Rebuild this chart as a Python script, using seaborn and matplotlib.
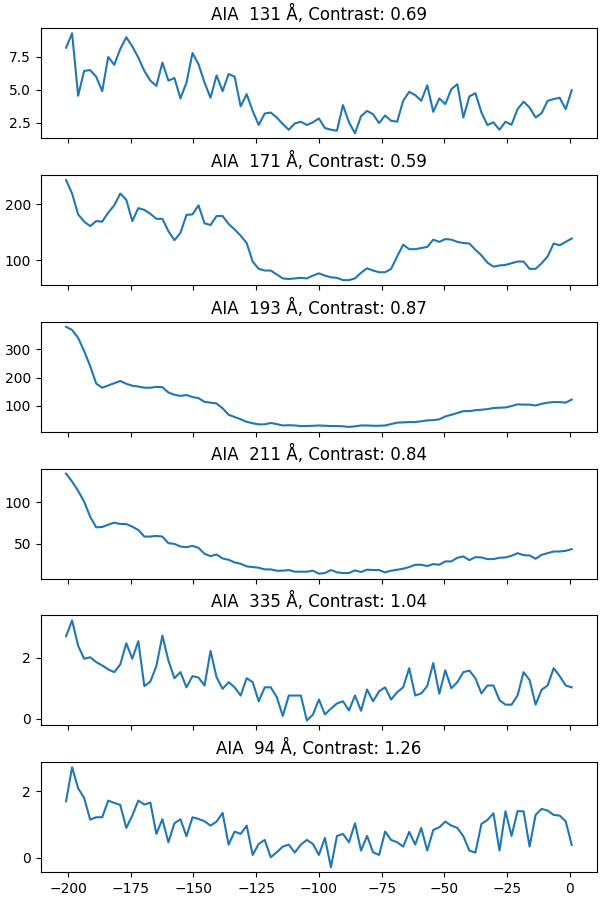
import numpy as np
import pandas as pd
import matplotlib
matplotlib.use("Agg")
import matplotlib.pyplot as plt
import seaborn as sns

# time axis (85 samples, ~2.4 spacing)
t = np.round(-200.8 + 2.4 * np.arange(85), 1)

wavelengths = [131, 171, 193, 211, 335, 94]
contrasts = [0.69, 0.59, 0.87, 0.84, 1.04, 1.26]

aia_131 = [8.2, 9.3, 4.55, 6.44, 6.5, 6.0, 4.9, 7.5, 6.9, 8.1,
           9.0, 8.3, 7.45, 6.44, 5.7, 5.3, 7.07, 5.7, 5.9, 4.35,
           5.55, 7.8, 6.95, 5.55, 4.4, 6.1, 4.9, 6.2, 6.0, 3.75,
           4.67, 3.4, 2.33, 3.2, 3.28, 2.9, 2.4, 1.97, 2.45, 2.58,
           2.33, 2.53, 2.83, 2.1, 1.97, 1.9, 3.84, 2.53, 1.7, 3.0,
           3.4, 3.15, 2.48, 3.05, 2.65, 2.58, 4.17, 4.85, 4.6, 4.17,
           5.35, 3.33, 4.35, 3.92, 5.05, 5.43, 2.9, 4.5, 4.75, 3.28,
           2.33, 2.53, 1.97, 2.58, 2.35, 3.53, 4.1, 3.66, 2.9, 3.23,
           4.17, 4.3, 4.4, 3.53, 4.97]

aia_171 = [243, 219, 182, 169, 161, 170, 169, 185, 198, 219,
           208, 170, 193, 190, 183, 174, 174, 152, 136, 149,
           181, 182, 198, 166, 163, 179, 179, 165, 155, 144,
           131, 98, 85, 82, 82, 75, 68, 67, 68, 69,
           68, 73, 77, 73, 70, 69, 65, 65, 68, 78,
           86, 82, 79, 79, 85, 107, 128, 120, 120, 122,
           124, 137, 133, 138, 137, 133, 131, 130, 119, 109,
           96, 89, 91, 92, 95, 98, 98, 85, 85, 95,
           107, 130, 127, 133, 139]

aia_193 = [380, 369, 341, 294, 241, 179, 164, 172, 180, 188,
           178, 171, 168, 164, 164, 167, 166, 147, 139, 135,
           138, 131, 127, 114, 111, 108, 91, 68, 60, 52,
           43, 38, 34, 34, 39, 35, 30, 31, 30, 28,
           28, 29, 30, 29, 28, 28, 27, 25, 27, 30,
           30, 29, 29, 30, 35, 40, 41, 42, 42, 45,
           48, 49, 52, 62, 68, 74, 81, 81, 84, 86,
           88, 92, 93, 94, 99, 105, 104, 104, 101, 107,
           111, 113, 113, 111, 122]

aia_211 = [134.8, 125.2, 114, 101, 82.8, 70, 70.4, 73.2, 75.6, 74,
           74, 70.8, 66.8, 58.8, 58.8, 59.6, 58.8, 50.8, 50, 46.8,
           46, 47.6, 45.2, 38, 35.2, 37.2, 32.4, 30.8, 27.6, 26,
           22.8, 22, 21.2, 19.2, 19.2, 17.6, 17.6, 18.4, 16.4, 16.4,
           16.4, 17.6, 14, 14.8, 18.4, 15.6, 14.8, 14.8, 18, 16,
           18.8, 18.4, 18.4, 15.6, 17.6, 18.8, 20, 22, 24.8, 24.8,
           23.2, 25.6, 24.8, 28.8, 28.8, 33.2, 34.8, 30.4, 34, 33.6,
           31.6, 31.6, 33.2, 33.6, 35.6, 38.8, 36.4, 36, 32, 36.8,
           38.8, 40.8, 40.8, 41.6, 43.6]

aia_335 = [2.71, 3.23, 2.40, 1.97, 2.02, 1.86, 1.75, 1.62, 1.53, 1.78,
           2.48, 1.97, 2.55, 1.07, 1.22, 1.73, 2.73, 1.91, 1.33, 1.53,
           1.03, 1.40, 1.35, 1.09, 2.23, 1.36, 0.98, 1.20, 1.03, 0.76,
           1.33, 1.20, 0.57, 1.03, 1.03, 0.71, 0.09, 0.76, 0.76, 0.76,
           -0.06, 0.13, 0.63, 0.14, 0.33, 0.50, 0.57, 0.27, 0.76, 0.26,
           0.96, 0.57, 0.90, 1.03, 0.63, 0.87, 1.03, 1.66, 0.76, 0.83,
           1.07, 1.83, 0.82, 1.59, 1.00, 1.20, 1.53, 1.58, 1.33, 0.83,
           1.09, 1.09, 0.61, 0.46, 0.46, 0.76, 1.53, 1.27, 0.46, 0.95,
           1.09, 1.66, 1.40, 1.09, 1.03]

aia_94 = [1.70, 2.72, 2.09, 1.80, 1.15, 1.22, 1.22, 1.72, 1.65, 1.59,
          0.90, 1.27, 1.72, 1.60, 1.66, 0.72, 1.16, 0.47, 1.04, 1.16,
          0.65, 1.22, 1.17, 1.10, 0.97, 1.09, 1.35, 0.40, 0.79, 0.72,
          0.97, 0.09, 0.42, 0.54, 0.02, 0.17, 0.34, 0.40, 0.16, 0.40,
          0.54, 0.42, 0.09, 0.60, -0.28, 0.66, 0.72, 0.47, 1.04, 0.22,
          0.66, 0.17, 0.09, 0.79, 0.54, 0.47, 0.34, 0.78, 0.40, 0.90,
          0.22, 0.84, 0.92, 1.09, 0.97, 0.90, 0.65, 0.22, 0.16, 1.02,
          1.14, 1.34, 0.22, 1.40, 0.66, 1.40, 1.40, 0.34, 1.29, 1.47,
          1.42, 1.29, 1.27, 1.10, 0.39]

series = [aia_131, aia_171, aia_193, aia_211, aia_335, aia_94]

fig, axes = plt.subplots(6, 1, figsize=(6, 9), dpi=100, sharex=True)

for ax, wl, c, vals in zip(axes, wavelengths, contrasts, series):
    df = pd.DataFrame({"t": t, "flux": vals})
    sns.lineplot(data=df, x="t", y="flux", ax=ax, color="#1f77b4", linewidth=1.5)
    ax.set_title(f"AIA  {wl} Å, Contrast: {c:.2f}")
    ax.set_xlabel("")
    ax.set_ylabel("")

fig.subplots_adjust(left=0.068, right=0.995, top=0.9686, bottom=0.0308, hspace=0.334)
fig.savefig("out.png", dpi=100)
